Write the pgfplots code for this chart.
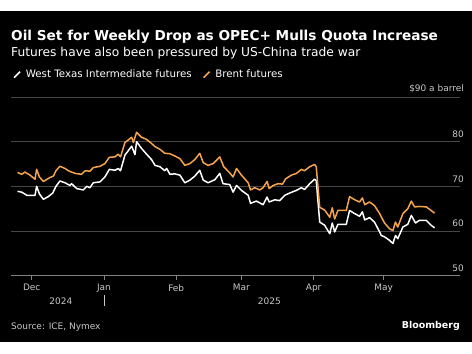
\documentclass[border=0pt]{standalone}
\usepackage{pgfplots}
\pgfplotsset{compat=1.18}
\usepackage{fontspec}
\setmainfont{DejaVu Sans}
\definecolor{brent}{RGB}{246,164,76}
\definecolor{gridc}{RGB}{70,70,70}
\definecolor{tickc}{RGB}{200,200,200}
\begin{document}
\begin{tikzpicture}
\fill[white] (0,0) rectangle (472bp,-354bp);
\fill[black] (0,-11bp) rectangle (472bp,-342bp);
\node[anchor=base west,text=white,inner sep=0pt,font=\bfseries\fontsize{13.7}{16}\selectfont] at (11bp,-40.5bp) {Oil Set for Weekly Drop as OPEC+ Mulls Quota Increase};
\node[anchor=base west,text=white,inner sep=0pt,font=\fontsize{12.3}{14}\selectfont] at (11bp,-56.5bp) {Futures have also been pressured by US-China trade war};
\node[anchor=west,text=tickc,inner sep=0pt,font=\fontsize{9}{11}\selectfont] at (11bp,-327bp) {Source: ICE, Nymex};
\node[anchor=east,text=white,inner sep=0pt,font=\bfseries\fontsize{9.5}{11}\selectfont] at (460bp,-326bp) {Bloomberg};
\begin{axis}[
  at={(11bp,-275.7bp)}, anchor=south west,
  scale only axis, width=449bp, height=178.7bp,
  xmin=-8.9, xmax=183.8, ymin=50, ymax=90,
  axis x line*=bottom, axis y line*=right,
  x axis line style={draw={rgb,255:red,130;green,130;blue,130},line width=0.9bp},
  y axis line style={draw=none},
  xtick={0,31,62,90,121,151},
  xticklabels={Dec,Jan,Feb,Mar,Apr,May},
  tick align=outside, major tick length=4bp,
  xtick style={draw={rgb,255:red,130;green,130;blue,130},line width=0.8bp},
  ytick={50,60,70,80,90},
  yticklabels={50,60,70,80,\$90 a barrel},
  ytick style={draw=none},
  ymajorgrids, grid style={draw=gridc,line width=0.8bp},
  yticklabel style={anchor=south east,inner sep=0pt,xshift=0bp,yshift=4bp,text=tickc,font=\fontsize{9}{11}\selectfont},
  yticklabel shift=-0bp,
  xticklabel style={text=tickc,font=\fontsize{9}{11}\selectfont,inner sep=0pt,yshift=-4.5bp},
  /pgf/number format/assume math mode=true,
  legend style={at={(-0.002,1.125)},anchor=west,draw=none,fill=none,text=white,font=\fontsize{10.3}{12}\selectfont,legend columns=2,
    /tikz/every odd column/.append style={column sep=3bp},
    /tikz/every even column/.append style={column sep=9bp}},
  legend image code/.code={\draw[#1,line width=1.6bp] (0bp,-3bp) -- (6bp,3bp);},
  clip=false,
]
\addplot[white,line width=1.5bp,line join=round] coordinates {
(-6.1,68.9)(-4.3,68.7)(-2.1,68.0)(1.4,68.0)(2.1,70.0)(3.3,68.3)(5.0,67.1)(7.1,67.7)(9.0,68.5)(10.4,70.0)(12.1,71.2)(14.3,70.8)(16.4,70.2)(17.1,70.6)(19.3,69.5)(22.1,69.2)(23.6,70.0)(25.0,69.7)(26.4,70.8)(29.3,71.0)(31.4,72.1)(33.3,73.8)(35.7,73.6)(37.1,74.0)(38.1,73.5)(40.0,77.0)(42.9,79.0)(44.3,77.1)(45.0,80.0)(47.1,78.5)(49.3,77.2)(51.4,76.0)(52.9,74.7)(55.0,74.4)(57.1,73.5)(57.9,74.0)(59.3,72.7)(61.4,72.8)(63.6,72.5)(65.7,70.8)(67.9,71.4)(70.0,72.3)(72.1,73.6)(73.6,71.4)(75.7,70.8)(78.6,71.5)(80.7,72.9)(82.1,70.6)(85.0,70.4)(86.4,68.7)(87.9,70.2)(90.0,69.1)(92.9,68.0)(93.9,66.2)(96.4,66.7)(99.3,65.9)(101.0,67.6)(101.9,66.5)(104.3,67.0)(106.4,66.8)(108.6,68.0)(110.7,68.5)(113.6,69.1)(115.7,69.7)(117.1,69.3)(119.3,70.6)(121.4,71.6)(122.1,71.3)(123.6,62.0)(125.7,61.3)(127.9,59.4)(129.0,61.8)(130.0,59.8)(131.4,61.5)(135.0,61.5)(136.4,64.6)(138.6,63.9)(140.7,63.3)(141.9,64.3)(142.9,62.5)(145.0,63.0)(147.1,62.0)(149.3,59.8)(150.0,59.0)(151.4,58.7)(153.6,57.9)(155.0,57.2)(156.1,59.0)(157.1,58.3)(159.3,60.9)(161.4,61.5)(162.9,63.5)(164.7,61.8)(166.4,62.4)(169.3,62.4)(171.4,61.3)(172.9,60.7)
};
\addlegendentry{West Texas Intermediate futures}
\addplot[brent,line width=1.5bp,line join=round] coordinates {
(-6.1,73.1)(-4.3,72.7)(-2.9,73.2)(-0.7,72.5)(1.4,71.6)(2.1,73.8)(3.3,72.1)(5.0,71.1)(7.9,72.0)(9.3,72.3)(10.4,73.5)(12.1,74.5)(14.3,74.0)(15.7,73.5)(17.1,73.2)(18.6,72.9)(21.4,72.7)(22.9,73.5)(25.0,73.4)(26.4,74.2)(29.3,74.5)(31.4,75.1)(33.3,76.5)(35.7,76.6)(37.1,77.2)(38.1,76.6)(40.0,79.8)(42.9,81.0)(43.6,79.8)(45.0,82.1)(47.1,81.0)(49.3,80.5)(51.4,79.6)(52.9,78.9)(55.0,78.3)(57.1,77.4)(59.3,77.3)(61.4,76.8)(63.6,76.2)(65.7,74.7)(67.9,75.1)(70.0,76.0)(72.1,77.4)(73.6,75.3)(75.7,74.7)(77.9,75.1)(80.7,76.6)(82.4,74.4)(85.0,73.0)(86.4,72.1)(87.9,74.0)(90.0,72.5)(92.9,70.8)(93.9,69.2)(95.7,69.7)(97.9,69.2)(99.3,69.7)(101.0,71.1)(101.9,69.5)(103.6,70.2)(105.7,70.6)(107.6,70.5)(109.0,71.7)(111.4,72.5)(113.6,72.9)(115.7,73.8)(117.1,73.5)(119.3,74.4)(121.4,74.9)(122.1,74.4)(123.6,65.3)(125.7,64.7)(127.9,63.1)(129.0,65.2)(130.0,62.7)(131.4,64.6)(135.0,64.6)(136.4,67.7)(138.6,67.0)(140.7,66.5)(141.9,67.4)(142.9,65.9)(145.0,66.5)(147.1,65.7)(149.3,63.9)(151.4,61.8)(153.6,60.5)(155.0,60.1)(156.1,62.0)(157.1,60.9)(159.3,63.9)(161.4,65.0)(162.9,66.7)(164.3,65.4)(166.4,65.5)(169.3,65.4)(171.4,64.6)(172.9,64.0)
};
\addlegendentry{Brent futures}
\node[text=tickc,font=\fontsize{9}{11}\selectfont,inner sep=0pt] at (axis cs:12.5,50) [yshift=-25.5bp] {2024};
\node[text=tickc,font=\fontsize{9}{11}\selectfont,inner sep=0pt] at (axis cs:102,50) [yshift=-25.5bp] {2025};
\draw[tickc,line width=0.8bp] ([yshift=-19.5bp]axis cs:31,50) -- ([yshift=-30.5bp]axis cs:31,50);
\end{axis}
\end{tikzpicture}
\end{document}
